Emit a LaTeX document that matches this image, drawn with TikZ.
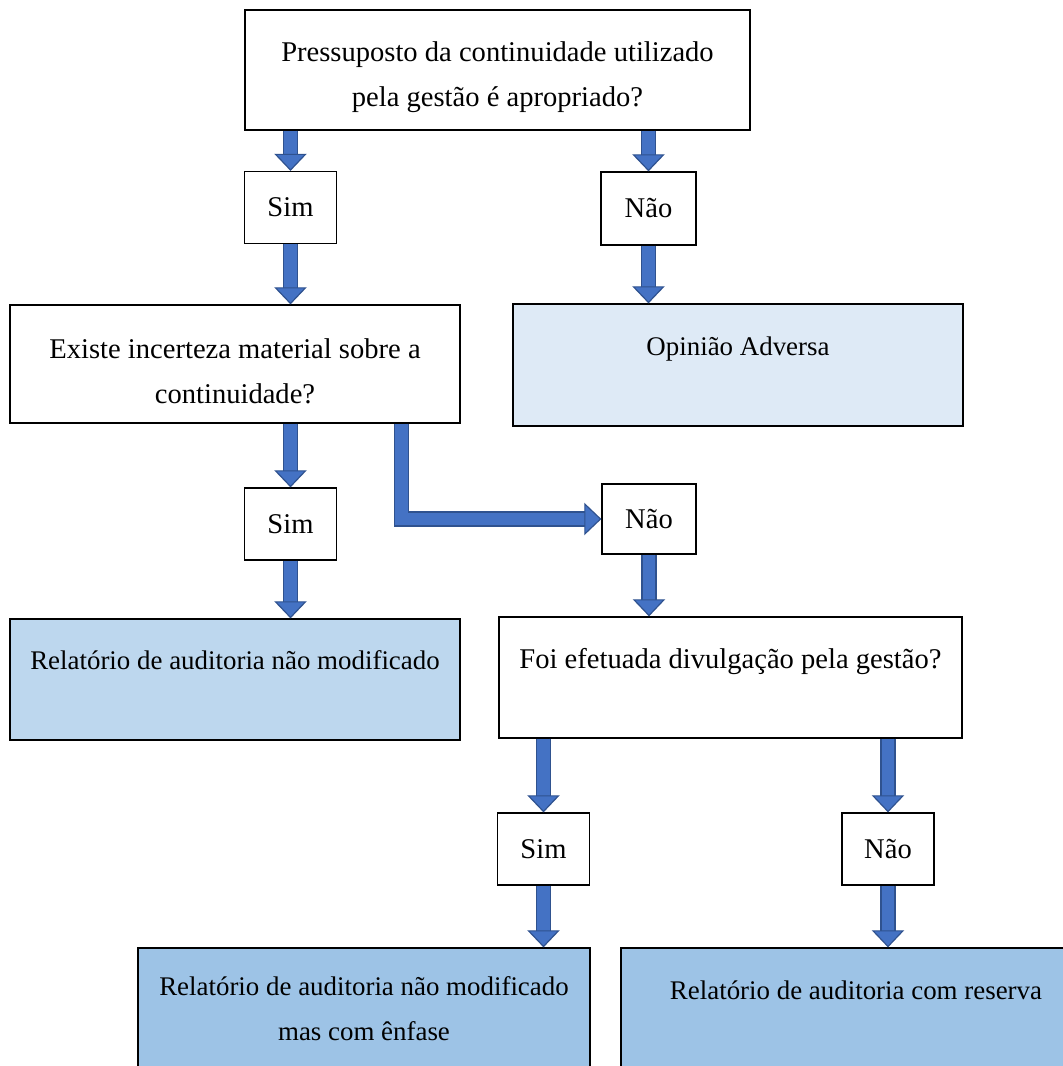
\documentclass[tikz,border=0pt]{standalone}
\usepackage{fontspec}
\setmainfont{Liberation Serif}
\usetikzlibrary{arrows.meta}
\definecolor{arrowblue}{HTML}{4472C4}
\definecolor{arrowedge}{HTML}{2F528F}
\definecolor{paleblue}{HTML}{DEEAF6}
\definecolor{lightblue}{HTML}{BDD7EE}
\definecolor{midblue}{HTML}{9DC3E6}
\tikzset{%
  boxsize/.style 2 args = {minimum width=#1*0.42pt, minimum height=#2*0.42pt},%
  stepbox/.style  = {shape=rectangle, draw, line width=0.5pt, fill=white,%
                     align=center, inner sep=0pt,%
                     font=\fontsize{12}{18.9}\selectfont},%
  question/.style = {stepbox, text height=33pt},%
  answer/.style   = {stepbox, boxsize={92}{72}},%
  outcome/.style  = {stepbox, font=\fontsize{11.3}{18.9}\selectfont},%
  oneline/.style  = {outcome, text depth=16pt},%
  flow/.style     = {draw=arrowedge, line width=0.5pt, double=arrowblue,%
                     double distance=5.4pt, line join=miter,%
                     -{Triangle[width=13.6pt,length=7.2pt,fill=arrowblue]}}%
}
\begin{document}
\begin{tikzpicture}[x=0.42pt,y=-0.42pt]
	\path[use as bounding box, clip] (0,0) rectangle (1063,1066);
	% questions
	\node [question, boxsize={505}{120}] (goingconcern) at (497.5,70)
		{Pressuposto da continuidade utilizado\\pela gestão é apropriado?};
	\node [question, boxsize={450}{118}] (uncertainty) at (235,364)
		{Existe incerteza material sobre a\\continuidade?};
	\node [stepbox, text depth=16pt, boxsize={463}{121}] (disclosure) at (730.5,677.5)
		{Foi efetuada divulgação pela gestão?};
	% answers
	\node [answer] (yesA) at (290.5,207.5) {Sim};
	\node [answer, boxsize={95}{73}] (noA) at (648.5,208.5) {Não};
	\node [answer] (yesB) at (290.5,524) {Sim};
	\node [answer, boxsize={94}{70}] (noB) at (649,519) {Não};
	\node [answer] (yesC) at (543.5,849) {Sim};
	\node [answer] (noC) at (888,849) {Não};
	% opinions
	\node [oneline, boxsize={450}{122}, fill=paleblue] (adverse) at (738,365)
		{Opinião Adversa};
	\node [oneline, boxsize={450}{121}, fill=lightblue] (clean) at (235,679.5)
		{Relatório de auditoria não modificado};
	\node [outcome, boxsize={452}{122}, fill=midblue] (emphasis) at (364,1009)
		{Relatório de auditoria não modificado\\mas com ênfase};
	\node [oneline, boxsize={470}{122}, fill=midblue] (qualified) at (856,1009)
		{Relatório de auditoria com reserva};
	% connectors
	\draw [flow] (goingconcern.south -| yesA.north) -- (yesA.north);
	\draw [flow] (yesA.south) -- (yesA.south |- uncertainty.north);
	\draw [flow] (goingconcern.south -| noA.north) -- (noA.north);
	\draw [flow] (noA.south) -- (noA.south |- adverse.north);
	\draw [flow] (uncertainty.south -| yesB.north) -- (yesB.north);
	\draw [flow] (yesB.south) -- (yesB.south |- clean.north);
	\draw [flow] ([xshift=-24.8pt]uncertainty.south east) |- (noB.west);
	\draw [flow] (noB.south) -- (noB.south |- disclosure.north);
	\draw [flow] (disclosure.south -| yesC.north) -- (yesC.north);
	\draw [flow] (yesC.south) -- (yesC.south |- emphasis.north);
	\draw [flow] (disclosure.south -| noC.north) -- (noC.north);
	\draw [flow] (noC.south) -- (noC.south |- qualified.north);
\end{tikzpicture}
\end{document}
